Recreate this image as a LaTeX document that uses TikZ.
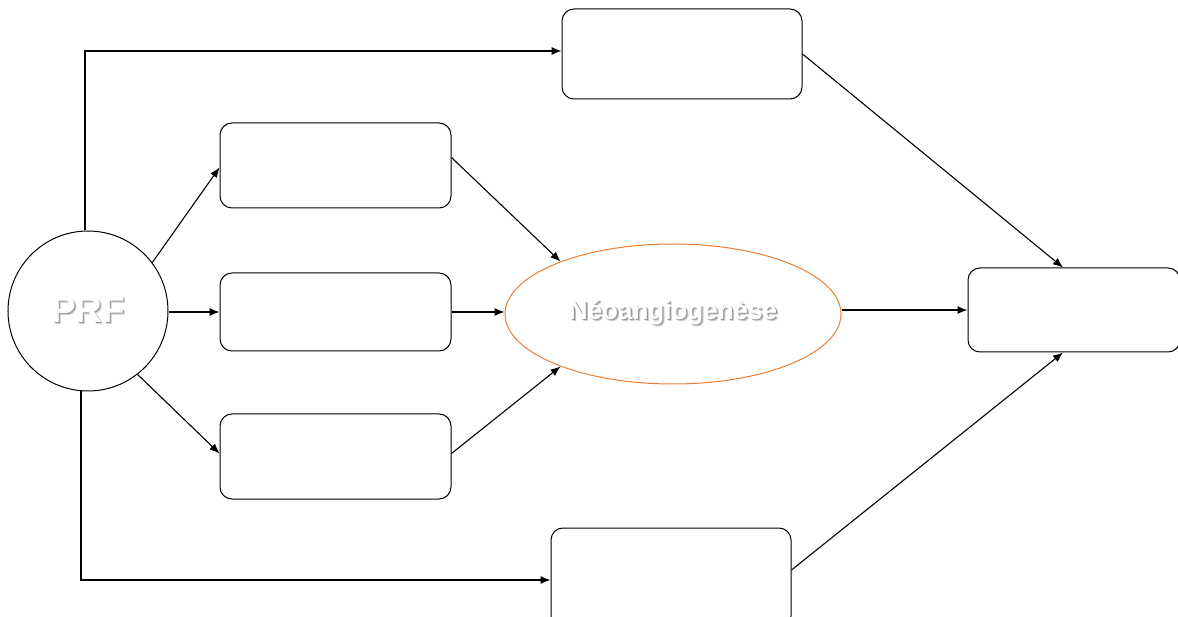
\documentclass[tikz,border=0pt]{standalone}
\usepackage{fontspec}
\setmainfont{Liberation Sans}
\usepackage{tikz}
\usetikzlibrary{arrows.meta,shapes}
\definecolor{orng}{RGB}{237,125,49}
\newcommand{\shtext}[1]{\leavevmode%
  \rlap{\raisebox{-2.2pt}{\hspace{2.2pt}\textcolor{black!18}{#1}}}%
  \rlap{\raisebox{-1.3pt}{\hspace{1.3pt}\textcolor{black!40}{#1}}}%
  \textcolor{white}{#1}}
\tikzstyle{bx}=[draw=black, rounded corners=12pt, line width=1pt, inner sep=0,
                fill=white]
\tikzstyle{ar}=[-{Latex[length=10pt,width=8pt]}, draw, line width=1.1pt]

\begin{document}
\begin{tikzpicture}[x=1pt,y=-1pt]
\useasboundingbox (0,0) rectangle (1178,617);
\node[circle,draw,line width=1pt,minimum size=160pt,inner sep=0,
      font=\bfseries\fontsize{37}{37}\selectfont] (prf) at (88,311) {\shtext{PRF}};
\node[ellipse,draw=orng,line width=1pt,minimum width=336pt,minimum height=140pt,
      inner sep=0,font=\bfseries\fontsize{26}{26}\selectfont] (neo) at (673,314)
      {\shtext{Néoangiogenèse}};
\node[bx, minimum width=240pt, minimum height=90pt] (top) at (682,54) {};
\node[bx, minimum width=231pt, minimum height=85pt] (boxa) at (335.5,165.5) {};
\node[bx, minimum width=231pt, minimum height=78pt] (boxb) at (335.5,312) {};
\node[bx, minimum width=231pt, minimum height=85pt] (boxc) at (335.5,456.5) {};
\node[bx, minimum width=240pt, minimum height=100pt] (bot) at (671,578) {};
\node[bx, minimum width=212pt, minimum height=84pt] (rt) at (1074,310) {};
\path[ar]
  ([xshift=-3pt]prf.north) |- ([yshift=3pt]top.west);
\path[ar]
  ([xshift=-7pt]prf.south) |- ([yshift=-2pt]bot.west);
\path[ar] (prf.37) -- ([yshift=-2pt]boxa.west);
\path[ar] (prf.east |- boxb.west) -- (boxb.west);
\path[ar] (prf.-52) -- ([yshift=3pt]boxc.west);
\path[ar] ([yshift=8pt]boxa.east) -- (neo.155);
\path[ar] (boxb.east) -- (boxb.east -| neo.west);
\path[ar] ([yshift=3pt]boxc.east) -- (neo.205);
\path[ar] (neo.east |- rt.west) -- (rt.west);
\path[ar] (top.east) -- ([xshift=-11pt]rt.north);
\path[ar] ([yshift=8pt]bot.east) -- ([xshift=-11pt]rt.south);
\end{tikzpicture}
\end{document}
